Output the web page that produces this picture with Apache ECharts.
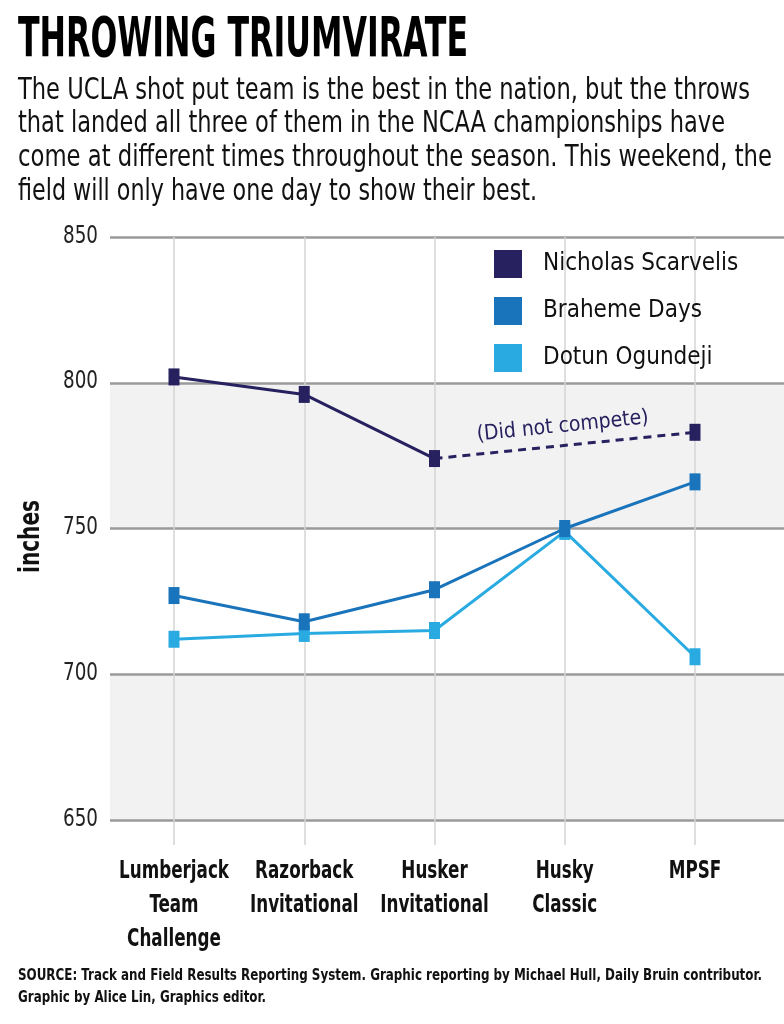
<!DOCTYPE html>
<html>
<head>
<meta charset="utf-8">
<script src="https://cdn.jsdelivr.net/npm/echarts@6/dist/echarts.min.js"></script>
<style>
html,body{margin:0;padding:0;background:#fff;}
#main{width:784px;height:1024px;}
</style>
</head>
<body>
<div id="main"></div>
<script>
// ---- data ----
var categories = ['Lumberjack\nTeam\nChallenge', 'Razorback\nInvitational', 'Husker\nInvitational', 'Husky\nClassic', 'MPSF'];
var seriesNames = ['Nicholas Scarvelis', 'Braheme Days', 'Dotun Ogundeji'];
var scarvelis = [802, 796, 774, null, 783];
var days = [727, 718, 729, 750, 766];
var ogundeji = [712, 714, 715, 749, 706];
var yTicks = [650, 700, 750, 800, 850];
var yAxisName = 'inches';
var titleText = 'THROWING TRIUMVIRATE';
var subtitleLines = [
  'The UCLA shot put team is the best in the nation, but the throws',
  'that landed all three of them in the NCAA championships have',
  'come at different times throughout the season. This weekend, the',
  'field will only have one day to show their best.'
];
var sourceLines = [
  'SOURCE: Track and Field Results Reporting System. Graphic reporting by Michael Hull, Daily Bruin contributor.',
  'Graphic by Alice Lin, Graphics editor.'
];
var annotation = '(Did not compete)';

var FONT = "'Liberation Sans Narrow','DejaVu Sans Condensed',sans-serif";
var colors = ['#27215f', '#1a74bb', '#29abe2'];

// dashed connector across the missing meet
var gapStart = 2, gapEnd = 4;
var dashed = scarvelis.map(function (v, i) { return (i === gapStart || i === gapEnd) ? v : null; });

var ctx = document.createElement('canvas').getContext('2d');
function fitScale(text, font, target) {
  ctx.font = font;
  return target / ctx.measureText(text).width;
}

var titleFont = 'bold 55px ' + FONT;
var subFont = '30px ' + FONT;
var srcFont = 'bold 15px ' + FONT;
var xLabFont = 'bold 24px ' + FONT;
var yLabFont = '25px ' + FONT;
var nameFont = 'bold 28px ' + FONT;
var subTargets = [732, 707, 754, 519];

var chart = echarts.init(document.getElementById('main'));
var graphics = [];
graphics.push({ type: 'text', x: 18, y: 42, scaleX: fitScale(titleText, titleFont, 450), style: { text: titleText, font: titleFont, fill: '#000', textVerticalAlign: 'middle' } });
subtitleLines.forEach(function (t, i) {
  graphics.push({ type: 'text', x: 18, y: 91 + i * 33.7, scaleX: fitScale(t, subFont, subTargets[i]), style: { text: t, font: subFont, fill: '#111', textVerticalAlign: 'middle' } });
});
var sSrc = Math.min(1, fitScale(sourceLines[0], srcFont, 744));
sourceLines.forEach(function (t, i) {
  graphics.push({ type: 'text', x: 18, y: 976 + i * 22, scaleX: sSrc, style: { text: t, font: srcFont, fill: '#111', textVerticalAlign: 'middle' } });
});

var option = {
  animation: false,
  backgroundColor: '#fff',
  color: colors,
  legend: {
    data: seriesNames,
    orient: 'vertical',
    left: 494, top: 250, padding: 0,
    itemWidth: 28, itemHeight: 28, itemGap: 19,
    icon: 'rect',
    textStyle: { fontFamily: FONT, fontSize: 24, color: '#111', padding: [0, 0, 0, 16] }
  },
  grid: [
    { left: 174, right: 89, top: 237, bottom: 204 },
    { left: 110, right: 0, top: 237, bottom: 204 }
  ],
  xAxis: [
    {
      type: 'category', gridIndex: 0, data: categories, boundaryGap: false,
      axisLine: { show: false },
      axisTick: { show: true, length: 25, lineStyle: { color: '#d4d4d4', width: 1.5 } },
      splitLine: { show: true, lineStyle: { color: '#d4d4d4', width: 1.5 } },
      axisLabel: { show: false }
    },
    { type: 'category', gridIndex: 1, data: categories, show: false }
  ],
  yAxis: [
    { type: 'value', gridIndex: 0, min: yTicks[0], max: yTicks[yTicks.length - 1], interval: 50, show: false, splitLine: { show: false } },
    {
      type: 'value', gridIndex: 1, min: yTicks[0], max: yTicks[yTicks.length - 1], interval: 50,
      axisLine: { show: false }, axisTick: { show: false },
      axisLabel: { show: false },
      splitLine: { lineStyle: { color: '#9a9a9a', width: 2.5 } },
      splitArea: { show: true, areaStyle: { color: ['#f2f2f2', '#ffffff'] } }
    }
  ],
  series: [
    {
      name: seriesNames[0], type: 'line', xAxisIndex: 0, yAxisIndex: 0, data: scarvelis, z: 5,
      symbol: 'rect', symbolSize: [11, 17], showAllSymbol: true, connectNulls: false,
      lineStyle: { width: 3, color: colors[0] }, itemStyle: { color: colors[0] }
    },
    {
      name: 'connector', type: 'line', xAxisIndex: 0, yAxisIndex: 0, data: dashed, z: 4,
      connectNulls: true, showSymbol: false, symbol: 'none',
      lineStyle: { width: 3, type: [8, 6], color: colors[0] }, silent: true
    },
    {
      name: seriesNames[1], type: 'line', xAxisIndex: 0, yAxisIndex: 0, data: days, z: 3,
      symbol: 'rect', symbolSize: [11, 17], showAllSymbol: true,
      lineStyle: { width: 3, color: colors[1] }, itemStyle: { color: colors[1] }
    },
    {
      name: seriesNames[2], type: 'line', xAxisIndex: 0, yAxisIndex: 0, data: ogundeji, z: 2,
      symbol: 'rect', symbolSize: [11, 17], showAllSymbol: true,
      lineStyle: { width: 3, color: colors[2] }, itemStyle: { color: colors[2] }
    }
  ],
  graphic: graphics
};
chart.setOption(option);

// axis labels as condensed text, positioned through the chart's own scales
var sX = fitScale('Lumberjack', xLabFont, 110);
categories.forEach(function (c, i) {
  var p = chart.convertToPixel({ xAxisIndex: 0 }, i);
  graphics.push({ type: 'text', x: p, y: 855, scaleX: sX, style: { text: c, font: xLabFont, fill: '#111', textAlign: 'center', textVerticalAlign: 'top', lineHeight: 34 } });
});
var sY = fitScale('850', yLabFont, 35);
yTicks.forEach(function (v) {
  var p = chart.convertToPixel({ yAxisIndex: 1 }, v);
  graphics.push({ type: 'text', x: 98, y: p - 1, scaleX: sY, style: { text: String(v), font: yLabFont, fill: '#222', textAlign: 'right', textVerticalAlign: 'middle' } });
});
var gTop = chart.convertToPixel({ yAxisIndex: 1 }, yTicks[yTicks.length - 1]);
var gBot = chart.convertToPixel({ yAxisIndex: 1 }, yTicks[0]);
graphics.push({ type: 'text', x: 32, y: (gTop + gBot) / 2 + 8, rotation: Math.PI / 2, scaleX: fitScale(yAxisName, nameFont, 73), style: { text: yAxisName, font: nameFont, fill: '#111', textAlign: 'center', textVerticalAlign: 'middle' } });

// annotation placed above the dashed connector, following its slope
var p1 = chart.convertToPixel({ gridIndex: 0 }, [gapStart, scarvelis[gapStart]]);
var p2 = chart.convertToPixel({ gridIndex: 0 }, [gapEnd, scarvelis[gapEnd]]);
var ang = Math.atan2(p2[1] - p1[1], p2[0] - p1[0]);
var mx = (p1[0] + p2[0]) / 2 - 2, my = (p1[1] + p2[1]) / 2 - 19;
graphics.push({
  type: 'text', x: mx, y: my, rotation: -ang,
  style: { text: annotation, font: '21px ' + FONT, fill: colors[0], textAlign: 'center', textVerticalAlign: 'middle' },
  z: 10
});
chart.setOption({ graphic: graphics });
</script>
</body>
</html>
